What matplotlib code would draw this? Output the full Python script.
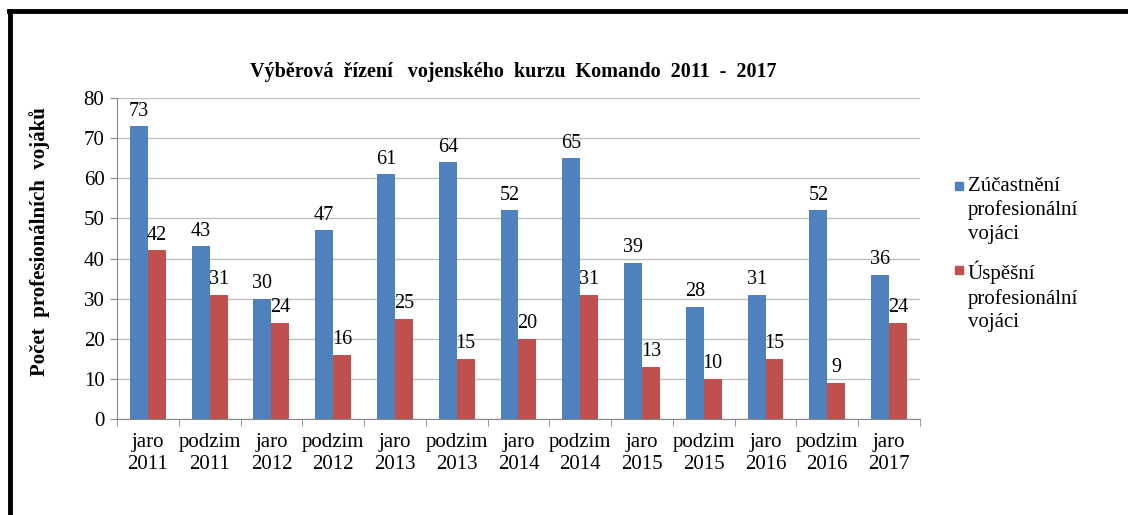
import numpy as np
import matplotlib
matplotlib.use("Agg")
from matplotlib import pyplot as plt
from matplotlib.lines import Line2D
from matplotlib.patches import Rectangle

# Data
seasons = ["jaro", "podzim", "jaro", "podzim", "jaro", "podzim", "jaro",
           "podzim", "jaro", "podzim", "jaro", "podzim", "jaro"]
years = ["2011", "2011", "2012", "2012", "2013", "2013", "2014",
         "2014", "2015", "2015", "2016", "2016", "2017"]
ucastneni = [73, 43, 30, 47, 61, 64, 52, 65, 39, 28, 31, 52, 36]
uspesni = [42, 31, 24, 16, 25, 15, 20, 31, 13, 10, 15, 9, 24]
legend_labels = ["Zúčastnění\nprofesionální\nvojáci", "Úspěšní\nprofesionální\nvojáci"]

plt.rcParams["font.family"] = ["Liberation Serif", "DejaVu Serif"]

blue = "#4F81BD"
red = "#C0504D"
W, H = 1128, 515

fig = plt.figure(figsize=(11.28, 5.15), dpi=100)
ax = fig.add_axes([0.1037, 0.1864, 0.7119, 0.6233])

x = np.arange(len(seasons))
w = 0.29
b1 = ax.bar(x - w / 2, ucastneni, w, color=blue)
b2 = ax.bar(x + w / 2, uspesni, w, color=red)
ax.bar_label(b1, padding=4, fontsize=14.5)
ax.bar_label(b2, padding=4, fontsize=14.5)

ax.set_xlim(-0.5, len(seasons) - 0.5)
ax.set_ylim(0, 80)
ax.set_yticks(range(0, 81, 10))
ax.yaxis.grid(True, color="#BFBFBF", linewidth=1)
ax.set_axisbelow(True)
ax.tick_params(axis="y", labelsize=15, length=5, color="#888888", pad=4)
ax.set_xticks(x)
ax.set_xticklabels([f"{s}\n{y}" for s, y in zip(seasons, years)], fontsize=15, linespacing=1.25)
ax.set_xticks(np.arange(len(seasons) + 1) - 0.5, minor=True)
ax.tick_params(axis="x", which="major", length=0, pad=10)
ax.tick_params(axis="x", which="minor", length=5, color="#888888")
for side in ["top", "right"]:
    ax.spines[side].set_visible(False)
for side in ["left", "bottom"]:
    ax.spines[side].set_color("#888888")

fig.text(513 / W, 1 - 72 / H, "Výběrová  řízení   vojenského  kurzu  Komando  2011  -  2017",
         ha="center", va="center", fontsize=14.5, fontweight="bold")
fig.text(40 / W, 1 - 242 / H, "Počet  profesionálních  vojáků", rotation=90,
         ha="center", va="center", fontsize=15, fontweight="bold")

# legend, marker aligned with first text line
for label, color, ytop in zip(legend_labels, [blue, red], [177, 261]):
    fig.add_artist(Rectangle((955 / W, 1 - (ytop + 13) / H), 8 / W, 8 / H,
                             color=color, transform=fig.transFigure))
    fig.text(968 / W, 1 - ytop / H, label, ha="left", va="top",
             fontsize=15, linespacing=1.3)

# outer frame (top and left)
fig.add_artist(Line2D([0.008, 1.0], [0.979, 0.979], color="black", linewidth=3.5,
                      transform=fig.transFigure))
fig.add_artist(Line2D([0.0085, 0.0085], [0.0, 0.979], color="black", linewidth=3.5,
                      transform=fig.transFigure))

fig.savefig("out.png", dpi=100)
